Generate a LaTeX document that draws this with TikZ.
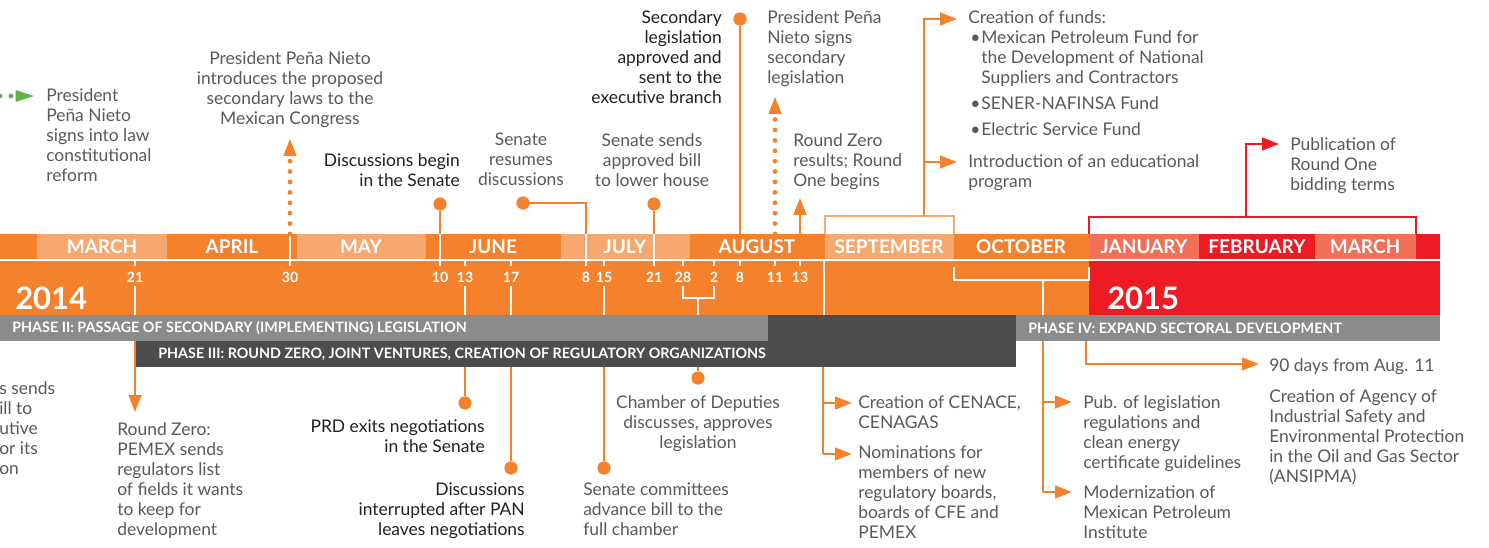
\documentclass[tikz,border=0pt]{standalone}
\usepackage{fontspec}
\setmainfont{Lato}
\usepackage{tikz}
\usetikzlibrary{arrows.meta}

\definecolor{tlOrange}{HTML}{F4812C}
\definecolor{tlLight}{HTML}{F7A86E}
\definecolor{tlRed}{HTML}{ED1C24}
\definecolor{tlSalmon}{HTML}{F26F58}
\definecolor{tlGreen}{HTML}{62B446}
\definecolor{phaseGray}{HTML}{8A8B8D}
\definecolor{phaseDark}{HTML}{4D4D4F}
\definecolor{txtGray}{HTML}{58595B}
\definecolor{txtDark}{HTML}{231F20}

\tikzstyle{month} = [text=white, inner sep=0, font=\bfseries\fontsize{13.5}{16}\selectfont]
\tikzstyle{dayNum} = [text=white, inner sep=0, font=\bfseries\fontsize{10}{12}\selectfont]
\tikzstyle{yearNum} = [text=white, inner sep=0, anchor=west, font=\bfseries\fontsize{22}{26}\selectfont]
\tikzstyle{phase} = [text=white, inner sep=0, anchor=west, font=\bfseries\fontsize{10.2}{12}\selectfont]
\tikzstyle{event} = [text=txtGray, inner sep=0, font=\fontsize{12.4}{14.23}\selectfont]
\tikzstyle{keyEvent} = [event, text=txtDark]
\tikzstyle{stem} = [tlOrange, line width=1.6pt]
\tikzstyle{stemArrow} = [stem, -{Triangle[length=12pt,width=9pt]}]
\tikzstyle{dotLine} = [tlOrange, line width=3.4pt, line cap=round, dash pattern=on 0pt off 7.4pt]
\tikzstyle{dotEnd} = [circle, fill=tlOrange, inner sep=0, minimum size=0.33cm]
\tikzstyle{whiteTick} = [white, line width=1.1pt]
\tikzstyle{bracketLine} = [line width=1.1pt]

\begin{document}
\begin{tikzpicture}[x=0.025cm, y=-0.025cm]
	\useasboundingbox (0,0) rectangle (1489,547);
	
	% levels of the band
	\coordinate (band-top) at (0,234);
	\coordinate (tick-end) at (0,266);
	\coordinate (num-line) at (0,286);
	\coordinate (band-bottom) at (0,315);
	\coordinate (phase2-bottom) at (0,341);
	\coordinate (phase3-bottom) at (0,367);
	
	% band with month row
	\fill[tlOrange] (0,234) rectangle (1089,315);
	\fill[tlRed] (1089,234) rectangle (1440,315);
	\fill[tlLight] (37,234) rectangle (167,259);		% March
	\fill[tlLight] (297,234) rectangle (426,259);		% May
	\fill[tlLight] (561,234) rectangle (690,259);		% July
	\fill[tlLight] (825,234) rectangle (954,259);		% September
	\fill[tlSalmon] (1089,234) rectangle (1199,259);	% January
	\fill[tlSalmon] (1315,234) rectangle (1416,259);	% March 2015
	\draw[whiteTick] (0,260) -- (1440,260);
	
	% phase bars
	\fill[phaseGray] (0,315) rectangle (768,341);
	\fill[phaseDark] (136,341) rectangle (1016,367);
	\fill[phaseDark] (768,315) rectangle (1016,341);
	\fill[phaseGray] (1016,315) rectangle (1440,341);
	
	\node[month] (m-mar) at (102,247) {MARCH};
	\node[month] (m-apr) at (232,247) {APRIL};
	\node[month] (m-may) at (361,247) {MAY};
	\node[month] (m-jun) at (493,247) {JUNE};
	\node[month] (m-jul) at (625,247) {JULY};
	\node[month] (m-aug) at (757,247) {AUGUST};
	\node[month] (m-sep) at (889,247) {SEPTEMBER};
	\node[month] (m-oct) at (1021,247) {OCTOBER};
	\node[month] (m-jan) at (1144,247) {JANUARY};
	\node[month] (m-feb) at (1257,247) {FEBRUARY};
	\node[month] (m-mar2) at (1365,247) {MARCH};
	
	\node[yearNum] (y-2014) at (15,298) {2014};
	\node[yearNum] (y-2015) at (1107,298) {2015};
	
	\node[phase] (phase-2) at (12,328) {PHASE II: PASSAGE OF SECONDARY (IMPLEMENTING) LEGISLATION};
	\node[phase] (phase-3) at (158,354) {PHASE III: ROUND ZERO, JOINT VENTURES, CREATION OF REGULATORY ORGANIZATIONS};
	\node[phase] (phase-4) at (1028,328) {PHASE IV: EXPAND SECTORAL DEVELOPMENT};
	
	% dates on the band
	\coordinate (mar-21) at (135,260);
	\coordinate (apr-30) at (290,260);
	\coordinate (jun-10) at (440,260);
	\coordinate (jun-13) at (465,260);
	\coordinate (jun-17) at (511,260);
	\coordinate (jul-8) at (586,260);
	\coordinate (jul-15) at (604,260);
	\coordinate (jul-21) at (654,260);
	\coordinate (jul-28) at (683,260);
	\coordinate (aug-2) at (714,260);
	\coordinate (aug-8) at (740,260);
	\coordinate (aug-11) at (775,260);
	\coordinate (aug-13) at (800,260);
	
	\node[dayNum] (n-mar-21) at (135,277) {21};
	\node[dayNum] (n-apr-30) at (290,277) {30};
	\node[dayNum] (n-jun-10) at (440,277) {10};
	\node[dayNum] (n-jun-13) at (465,277) {13};
	\node[dayNum] (n-jun-17) at (511,277) {17};
	\node[dayNum] (n-jul-8) at (586,277) {8};
	\node[dayNum] (n-jul-15) at (604,277) {15};
	\node[dayNum] (n-jul-21) at (654,277) {21};
	\node[dayNum] (n-jul-28) at (683,277) {28};
	\node[dayNum] (n-aug-2) at (714,277) {2};
	\node[dayNum] (n-aug-8) at (740,277) {8};
	\node[dayNum] (n-aug-11) at (775,277) {11};
	\node[dayNum] (n-aug-13) at (800,277) {13};
	
	% white ticks, through lines and brackets inside the band
	\draw[whiteTick] (mar-21) -- (mar-21 |- tick-end);
	\draw[whiteTick] (jun-13) -- (jun-13 |- tick-end);
	\draw[whiteTick] (jun-17) -- (jun-17 |- tick-end);
	\draw[whiteTick] (jul-15) -- (jul-15 |- tick-end);
	\draw[whiteTick] (jul-28) -- (jul-28 |- tick-end);
	\draw[whiteTick] (aug-2) -- (aug-2 |- tick-end);
	\draw[whiteTick] (aug-8) -- (aug-8 |- tick-end);
	\draw[whiteTick] (aug-11) -- (aug-11 |- tick-end);
	\draw[whiteTick] (aug-13) -- (aug-13 |- tick-end);
	\draw[whiteTick] (apr-30 |- band-top) -- (apr-30 |- tick-end);
	\draw[whiteTick] (jun-10 |- band-top) -- (jun-10 |- tick-end);
	\draw[whiteTick] (jul-8 |- band-top) -- (jul-8 |- tick-end);
	\draw[whiteTick] (jul-21 |- band-top) -- (jul-21 |- tick-end);
	\draw[whiteTick] (mar-21 |- num-line) -- (mar-21 |- band-bottom);
	\draw[whiteTick] (jun-13 |- num-line) -- (jun-13 |- band-bottom);
	\draw[whiteTick] (jun-17 |- num-line) -- (jun-17 |- band-bottom);
	\draw[whiteTick] (jul-15 |- num-line) -- (jul-15 |- band-bottom);
	\coordinate (jul-aug) at (698,298);
	\draw[whiteTick] (jul-28 |- num-line) |- (jul-aug) -| (aug-2 |- num-line);
	\draw[whiteTick] (jul-aug) -- (jul-aug |- band-bottom);
	\coordinate (sep-start) at (824,260);
	\draw[whiteTick] (sep-start) -- (sep-start |- band-bottom);
	\coordinate (oct-mid) at (1043,280);
	\draw[whiteTick] (954,267) |- (oct-mid) -| (1089,267);
	\draw[whiteTick] (oct-mid) -- (oct-mid |- band-bottom);
	
	% events above the band
	\node[event, align=left, anchor=north west] (pres-signs-reform) at (46,88) {President\\Peña Nieto\\signs into law\\constitutional\\reform};
	\node[event, align=center, anchor=north] (pres-introduces) at (290,51) {President Peña Nieto\\introduces the proposed\\secondary laws to the\\Mexican Congress};
	\node[keyEvent, align=right, anchor=north east] (disc-begin) at (460,153) {Discussions begin\\in the Senate};
	\node[event, align=center, anchor=north] (senate-resumes) at (521,133) {Senate\\resumes\\discussions};
	\node[event, align=center, anchor=north] (senate-sends) at (652,133) {Senate sends\\approved bill\\to lower house};
	\node[keyEvent, align=right, anchor=north east] (sec-approved) at (722,10) {Secondary\\legislation\\approved and\\sent to the\\executive branch};
	\node[event, align=left, anchor=north west] (pres-signs-sec) at (767,10) {President Peña\\Nieto signs\\secondary\\legislation};
	\node[event, align=left, anchor=north west] (round-zero-results) at (793,133) {Round Zero\\results; Round\\One begins};
	\node[event, align=left, anchor=north west] (funds) at (968,10) {Creation of funds:\\
		\hspace*{0.05cm}\makebox[0.275cm][l]{•}Mexican Petroleum Fund for\\
		\hspace*{0.325cm}the Development of National\\
		\hspace*{0.325cm}Suppliers and Contractors\\[0.15cm]
		\hspace*{0.05cm}\makebox[0.275cm][l]{•}SENER-NAFINSA Fund\\[0.15cm]
		\hspace*{0.05cm}\makebox[0.275cm][l]{•}Electric Service Fund};
	\node[event, align=left, anchor=north west] (edu-program) at (968,154) {Introduction of an educational\\program};
	\node[event, align=left, anchor=north west] (round-one-terms) at (1290,137) {Publication of\\Round One\\bidding terms};
	
	% events below the band
	\node[event, align=left, anchor=north west] (congress-sends) at (-1,381) {s sends\\ill to\\utive\\or its\\on};
	\node[event, align=left, anchor=north west] (round-zero-list) at (117,422) {Round Zero:\\PEMEX sends\\regulators list\\of fields it wants\\to keep for\\development};
	\node[keyEvent, align=right, anchor=north east] (prd-exits) at (485,419) {PRD exits negotiations\\in the Senate};
	\node[keyEvent, align=right, anchor=north east] (disc-interrupted) at (525,482) {Discussions\\interrupted after PAN\\leaves negotiations};
	\node[event, align=left, anchor=north west] (committees) at (583,482) {Senate committees\\advance bill to the\\full chamber};
	\node[event, align=center, anchor=north] (chamber) at (698,395) {Chamber of Deputies\\discusses, approves\\legislation};
	\node[event, align=left, anchor=north west] (cenace) at (858,395) {Creation of CENACE,\\CENAGAS};
	\node[event, align=left, anchor=north west] (nominations) at (858,445) {Nominations for\\members of new\\regulatory boards,\\boards of CFE and\\PEMEX};
	\node[event, align=left, anchor=north west] (pub-legislation) at (1083,395) {Pub. of legislation\\regulations and\\clean energy\\certificate guidelines};
	\node[event, align=left, anchor=north west] (modernization) at (1083,485) {Modernization of\\Mexican Petroleum\\Institute};
	\node[event, align=left, anchor=north west] (ninety-days) at (1269,358) {90 days from Aug. 11};
	\node[event, align=left, anchor=north west] (ansipma) at (1269,389) {Creation of Agency of\\Industrial Safety and\\Environmental Protection\\in the Oil and Gas Sector\\(ANSIPMA)};
	
	% dot ends of the stems
	\node[dotEnd] (disc-begin-dot) at (440,204) {};
	\node[dotEnd] (resumes-dot) at (523,203) {};
	\node[dotEnd] (sends-dot) at (654,204) {};
	\node[dotEnd] (approved-dot) at (740,19) {};
	\node[dotEnd] (prd-dot) at (465,403) {};
	\node[dotEnd] (interrupted-dot) at (511,468) {};
	\node[dotEnd] (committees-dot) at (604,468) {};
	\node[dotEnd] (chamber-dot) at (698,378) {};
	
	% free ends of the arrows
	\coordinate (green-tip) at (34,96);
	\coordinate (introduces-tip) at (290,139);
	\coordinate (signs-tip) at (775,97);
	\coordinate (results-tip) at (800,198);
	\coordinate (sep-mid) at (924,216);
	\coordinate (funds-tip) at (957,19);
	\coordinate (edu-tip) at (957,162);
	\coordinate (red-mid) at (1246,217);
	\coordinate (terms-tip) at (1279,144);
	\coordinate (round-zero-tip) at (135,412);
	\coordinate (cenace-tip) at (852,403);
	\coordinate (nominations-tip) at (852,454);
	\coordinate (pub-tip) at (1072,402);
	\coordinate (modern-tip) at (1072,492);
	\coordinate (ninety-tip) at (1259,364);
	
	% stems above the band
	\draw[tlGreen, line width=3.4pt, line cap=round, dash pattern=on 0pt off 7.8pt] (0,96) -- (12,96);
	\draw[tlGreen, line width=1.6pt, -{Triangle[length=13pt,width=8pt]}] (16,96) -- (green-tip);
	\draw[dotLine] (apr-30 |- band-top) -- (290,160);
	\draw[stemArrow] (290,152) -- (introduces-tip);
	\draw[stem] (disc-begin-dot) -- (disc-begin-dot |- band-top);
	\draw[stem] (resumes-dot) -| (jul-8 |- band-top);
	\draw[stem] (sends-dot) -- (sends-dot |- band-top);
	\draw[stem] (approved-dot) -- (approved-dot |- band-top);
	\draw[dotLine] (aug-11 |- band-top) -- (775,116);
	\draw[stemArrow] (775,110) -- (signs-tip);
	\draw[stemArrow] (aug-13 |- band-top) -- (results-tip);
	
	% brackets over September and over 2015
	\draw[bracketLine, tlLight] (825,234) |- (sep-mid) -| (954,234);
	\draw[stemArrow] (sep-mid) |- (funds-tip);
	\draw[stemArrow] (sep-mid |- edu-tip) -- (edu-tip);
	\draw[bracketLine, tlRed] (1089,234) |- (red-mid) -| (1416,234);
	\draw[tlRed, line width=1.6pt, -{Triangle[length=12pt,width=9pt]}] (red-mid) |- (terms-tip);
	
	% stems below the band
	\draw[stemArrow] (mar-21 |- phase2-bottom) -- (round-zero-tip);
	\draw[stem] (jun-13 |- phase3-bottom) -- (prd-dot);
	\draw[stem] (jun-17 |- phase3-bottom) -- (interrupted-dot);
	\draw[stem] (jul-15 |- phase3-bottom) -- (committees-dot);
	\draw[stem] (jul-aug |- phase3-bottom) -- (chamber-dot);
	\draw[stem] (823,367) -- (823,454);
	\draw[stemArrow] (823,403) -- (cenace-tip);
	\draw[stemArrow] (823,454) -- (nominations-tip);
	\draw[stem] (oct-mid |- phase2-bottom) -- (1043,492);
	\draw[stemArrow] (1043,402) -- (pub-tip);
	\draw[stemArrow] (1043,492) -- (modern-tip);
	\draw[stemArrow] (1086,341) |- (ninety-tip);
\end{tikzpicture}
\end{document}
